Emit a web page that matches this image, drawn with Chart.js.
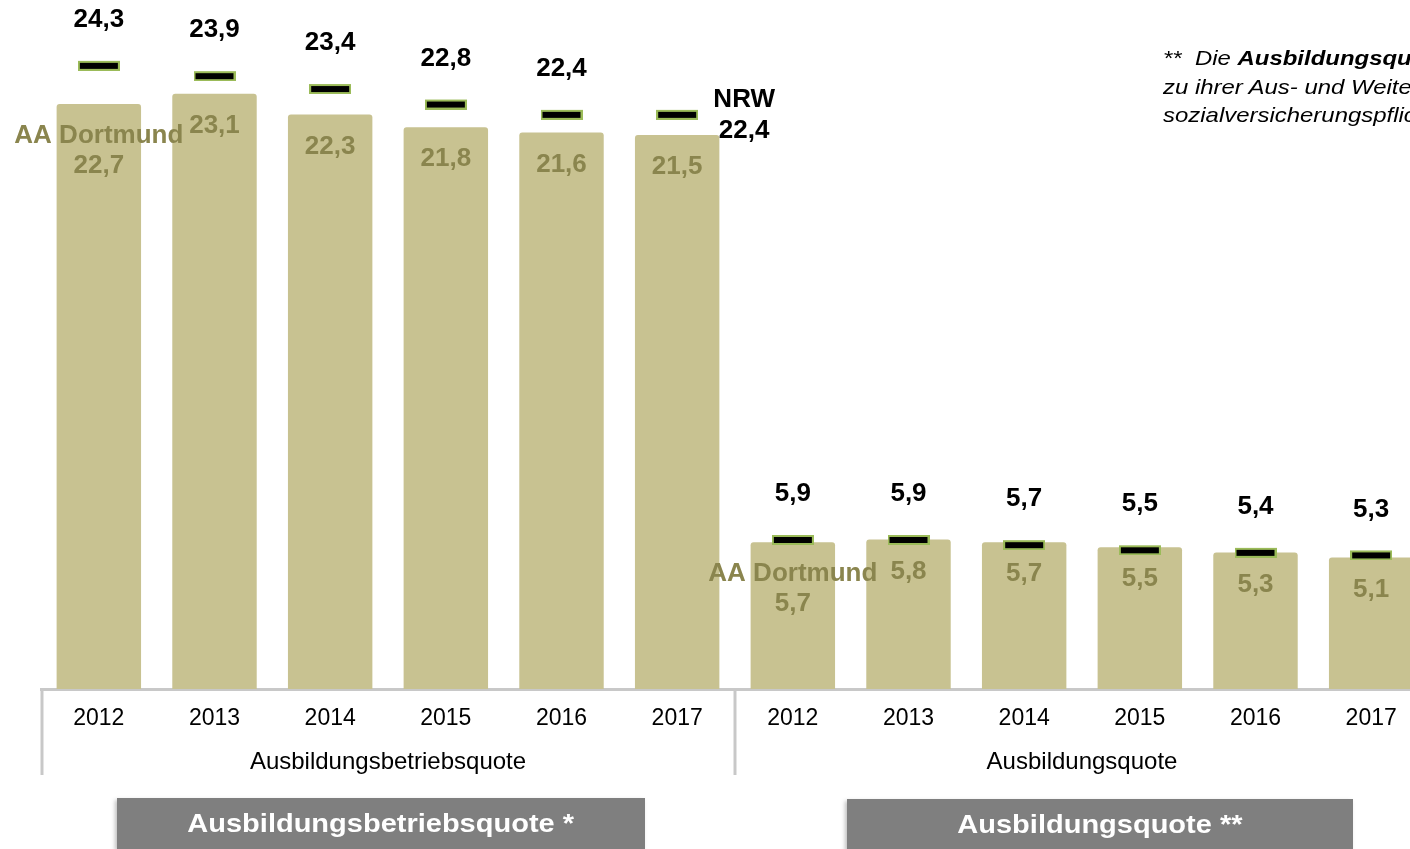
<!DOCTYPE html>
<html lang="de">
<head>
<meta charset="utf-8">
<script src="https://cdn.jsdelivr.net/npm/chart.js@4"></script>
<style>
  html, body { margin:0; padding:0; width:1410px; height:849px; overflow:hidden; background:#fff; }
  #wrap { position:absolute; left:0; top:0; width:1429px; height:800px; }
  .note { position:absolute; left:1163px; top:44px; font-family:'Liberation Sans', Arial, sans-serif; font-style:italic; font-size:21px; line-height:28.5px; white-space:pre; color:#000; transform:scaleX(1.14); transform-origin:left top; }
  .box { position:absolute; height:51px; background:#7F7F7F; box-shadow:-2px 2px 4px rgba(0,0,0,0.25); text-align:center; color:#fff; font-family:'Liberation Sans', Arial, sans-serif; font-weight:bold; font-size:25px; line-height:50px; }
  .box span { display:inline-block; transform:scaleX(1.16); }
</style>
</head>
<body>
<div id="wrap"><canvas id="c" width="1429" height="800"></canvas></div>
<div class="note" id="note"></div>
<div class="box" id="box0" style="left:117px; top:798px; width:528px;"><span></span></div>
<div class="box" id="box1" style="left:847px; top:799px; width:506px;"><span></span></div>
<script>
// ---- data ----
const years = ['2012','2013','2014','2015','2016','2017','2012','2013','2014','2015','2016','2017'];
const groups = ['Ausbildungsbetriebsquote','Ausbildungsquote'];
const seriesNames = ['AA Dortmund','NRW'];
const aaDortmund = [22.7, 23.1, 22.3, 21.8, 21.6, 21.5, 5.7, 5.8, 5.7, 5.5, 5.3, 5.1];
const nrw = [24.3, 23.9, 23.4, 22.8, 22.4, 22.4, 5.9, 5.9, 5.7, 5.5, 5.4, 5.3];
const panelTitles = ['Ausbildungsbetriebsquote *','Ausbildungsquote **'];
const noteLines = [
  ['**  Die ', 'Ausbildungsquote', ' ist der Anteil der'],
  ['zu ihrer Aus- und Weiterbildung Beschäftigten an allen'],
  ['sozialversicherungspflichtig Beschäftigten.']
];

// ---- static text ----
document.querySelector('#box0 span').textContent = panelTitles[0];
document.querySelector('#box1 span').textContent = panelTitles[1];
const note = document.getElementById('note');
noteLines.forEach((parts, li) => {
  parts.forEach((p, pi) => {
    const s = document.createElement('span');
    s.textContent = p;
    if (li === 0 && pi === 1) s.style.fontWeight = 'bold';
    note.appendChild(s);
  });
  if (li < noteLines.length - 1) note.appendChild(document.createElement('br'));
});

const FONT = "'Liberation Sans', Arial, sans-serif";
const fmt = v => v.toFixed(1).replace('.', ',');

// marker image: black bar with green border
const marker = document.createElement('canvas');
marker.width = 42; marker.height = 16;
(function(){
  const m = marker.getContext('2d');
  m.fillStyle = '#9BBB59'; m.fillRect(0, 6, 42, 10);
  m.fillStyle = '#000000'; m.fillRect(2, 8, 38, 6);
})();

const labelPlugin = {
  id: 'labels',
  afterDatasetsDraw(chart) {
    const ctx = chart.ctx;
    const lineMeta = chart.getDatasetMeta(0);
    const barMeta = chart.getDatasetMeta(1);
    ctx.save();
    ctx.textAlign = 'center';
    ctx.textBaseline = 'middle';
    ctx.font = 'bold 26px ' + FONT;
    ctx.fillStyle = '#8A854E';
    barMeta.data.forEach((el, i) => {
      if (i % 6 === 0) {
        ctx.fillText(seriesNames[0], el.x, el.y + 32);
        ctx.fillText(fmt(aaDortmund[i]), el.x, el.y + 62);
      } else {
        ctx.fillText(fmt(aaDortmund[i]), el.x, el.y + 32);
      }
    });
    ctx.fillStyle = '#000000';
    lineMeta.data.forEach((p, i) => {
      if (i === 5) {
        ctx.fillText(seriesNames[1], p.x + 67, p.y - 12);
        ctx.fillText(fmt(nrw[i]), p.x + 67, p.y + 19);
      } else {
        ctx.fillText(fmt(nrw[i]), p.x, p.y - 43);
      }
    });
    ctx.restore();
  },
  afterDraw(chart) {
    const ctx = chart.ctx;
    const x = chart.scales.x;
    const a = chart.chartArea;
    const mid = (x.getPixelForTick(5) + x.getPixelForTick(6)) / 2;
    ctx.save();
    ctx.strokeStyle = '#C8C8C8';
    ctx.lineWidth = 3;
    [a.left + 1, mid, a.right - 1].forEach(px => {
      ctx.beginPath();
      ctx.moveTo(px, a.bottom);
      ctx.lineTo(px, 775);
      ctx.stroke();
    });
    ctx.restore();
  }
};

new Chart(document.getElementById('c'), {
  data: {
    labels: years,
    datasets: [
      {
        type: 'line',
        label: seriesNames[1],
        data: nrw,
        showLine: false,
        pointStyle: marker,
        pointRadius: 6,
        pointHoverRadius: 6,
        clip: false,
        order: 0
      },
      {
        type: 'bar',
        label: seriesNames[0],
        data: aaDortmund,
        backgroundColor: '#C8C291',
        borderRadius: 3,
        barPercentage: 0.73,
        categoryPercentage: 1.0,
        order: 1
      }
    ]
  },
  options: {
    responsive: false,
    animation: false,
    devicePixelRatio: 1,
    events: [],
    layout: { autoPadding: false, padding: { left: 41, right: 0, top: 0, bottom: 16 } },
    plugins: { legend: { display: false }, tooltip: { enabled: false } },
    scales: {
      y: { display: false, min: 0, max: 26.74 },
      x: {
        type: 'category',
        position: 'bottom',
        weight: 0,
        offset: true,
        grid: { display: false, drawTicks: false },
        border: { display: true, color: '#C8C8C8', width: 3 },
        ticks: { color: '#000', font: { family: FONT, size: 23 }, padding: 16, maxRotation: 0, autoSkip: false },
        afterFit(s) { s.height = 50; }
      },
      x2: {
        type: 'category',
        position: 'bottom',
        weight: 1,
        labels: groups,
        offset: true,
        grid: { display: false, drawTicks: false },
        border: { display: false },
        ticks: { color: '#000', font: { family: FONT, size: 24 }, padding: 9, maxRotation: 0, autoSkip: false },
        afterFit(s) { s.height = 45; }
      }
    }
  },
  plugins: [labelPlugin]
});
</script>
</body>
</html>
